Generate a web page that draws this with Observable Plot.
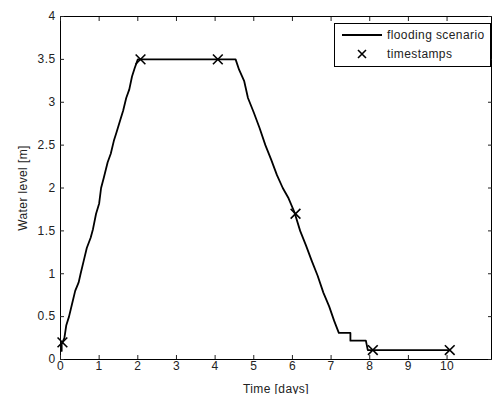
<!DOCTYPE html>
<html>
<head>
<meta charset="utf-8">
<script src="https://cdn.jsdelivr.net/npm/d3@7"></script>
<script src="https://cdn.jsdelivr.net/npm/@observablehq/plot@0.6"></script>
<style>
  body { margin: 0; background: #fff; }
  #wrap { position: relative; width: 492px; height: 394px; font-family: "Liberation Sans", Arial, sans-serif; }
  #legend { position: absolute; left: 334px; top: 23px; width: 155px; height: 42px; border: 1px solid #000; background: #fff; font-size: 12px; letter-spacing: 0.4px; color: #222; }
  .row { position: absolute; left: 0; height: 16px; display: flex; align-items: center; }
  .sw { width: 40px; margin-left: 7px; margin-right: 5px; display: flex; align-items: center; justify-content: center; }
  svg text { letter-spacing: 0.4px; }
</style>
</head>
<body>
<div id="wrap">
  <div id="chart"></div>
  <div id="legend">
    <div class="row" style="top:3px"><div class="sw"><div style="width:40px;height:2px;background:#000"></div></div><span>flooding scenario</span></div>
    <div class="row" style="top:22px"><div class="sw"><svg width="12" height="12"><path d="M2,2L10,10M10,2L2,10" stroke="#000" stroke-width="1.6"/></svg></div><span>timestamps</span></div>
  </div>
</div>
<script>
// flooding scenario (time in days, water level in m)
const scenarioT = [0.03,0.03,0.10,0.15,0.22,0.30,0.38,0.47,0.52,0.60,0.68,0.78,0.84,0.92,1.00,1.05,1.12,1.22,1.30,1.38,1.45,1.55,1.62,1.70,1.78,1.85,1.92,2.00,
  4.53,4.62,4.75,4.85,5.00,5.15,5.30,5.45,5.60,5.75,5.90,6.05,6.20,6.35,6.50,6.65,6.80,6.95,7.08,7.20,7.50,7.50,7.90,7.95,10.07];
const scenarioH = [0.10,0.18,0.25,0.40,0.50,0.65,0.80,0.90,1.00,1.15,1.30,1.42,1.52,1.70,1.82,2.00,2.12,2.30,2.40,2.55,2.65,2.80,2.90,3.05,3.15,3.30,3.40,3.50,
  3.50,3.38,3.25,3.05,2.88,2.70,2.50,2.33,2.15,2.00,1.88,1.72,1.50,1.33,1.15,0.98,0.78,0.62,0.45,0.31,0.31,0.22,0.22,0.11,0.11];
// timestamps
const stampT = [0.05, 2.07, 4.07, 6.08, 8.08, 10.07];
const stampH = [0.20, 3.50, 3.50, 1.70, 0.11, 0.11];
// ticks
const xTicks = [0,1,2,3,4,5,6,7,8,9,10];
const yTicks = [0,0.5,1,1.5,2,2.5,3,3.5,4];

const line = scenarioT.map((t, i) => ({t, h: scenarioH[i]}));
const stamps = stampT.map((t, i) => ({t, h: stampH[i]}));
const blank = () => "";

const chart = Plot.plot({
  width: 492,
  height: 394,
  marginLeft: 60,
  marginTop: 16,
  marginBottom: 35,
  marginRight: 1,
  style: {fontFamily: "'Liberation Sans', Arial, sans-serif", fontSize: "12px", color: "#222", background: "#fff"},
  x: {domain: [0, 11.15]},
  y: {domain: [0, 4]},
  marks: [
    Plot.frame({stroke: "#000"}),
    Plot.axisX(xTicks, {anchor: "bottom", tickSize: 0, tickPadding: 2, label: "Time [days]", labelAnchor: "center", labelOffset: 33, labelArrow: "none"}),
    Plot.axisX(xTicks, {anchor: "bottom", tickSize: 4, dy: -4, tickFormat: blank, label: null}),
    Plot.axisX(xTicks, {anchor: "top", tickSize: 4, dy: 4, tickFormat: blank, label: null}),
    Plot.axisY(yTicks, {anchor: "left", tickSize: 0, tickPadding: 5, tickFormat: d => String(d), label: "Water level [m]", labelAnchor: "center", labelOffset: 42, labelArrow: "none"}),
    Plot.axisY(yTicks, {anchor: "left", tickSize: 4, dx: 4, tickFormat: blank, label: null}),
    Plot.axisY(yTicks, {anchor: "right", tickSize: 4, dx: -4, tickFormat: blank, label: null}),
    Plot.line(line, {x: "t", y: "h", stroke: "#000", strokeWidth: 1.8}),
    Plot.dot(stamps, {x: "t", y: "h", symbol: "times", r: 4.5, stroke: "#000", strokeWidth: 1.6})
  ]
});
document.getElementById("chart").appendChild(chart);
</script>
</body>
</html>
